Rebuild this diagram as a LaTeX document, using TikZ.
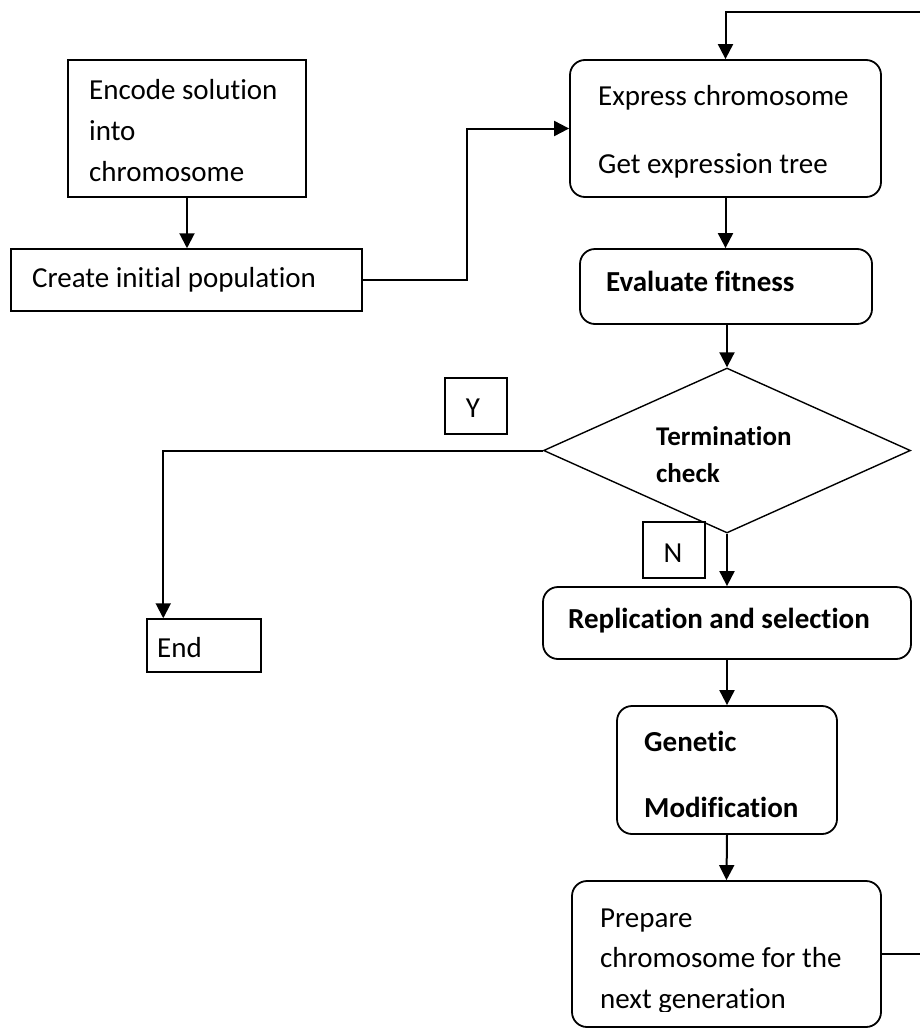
\documentclass[tikz,border=0pt]{standalone}
\usepackage{fontspec}
\setmainfont{Carlito}[Ligatures=NoCommon]
\usetikzlibrary{arrows.meta,shapes.geometric}

\begin{document}
\begin{tikzpicture}[x=1pt,y=-1pt,
  box/.style={draw,line width=1.5pt,inner sep=0pt,minimum width=#1},
  rbox/.style={box=#1,rounded corners=15pt,line width=1.8pt},
  tag/.style={draw,line width=1.3pt,inner sep=0pt,minimum width=62pt,minimum height=56pt},
  txt/.style={anchor=base west,inner sep=0pt,font=\fontsize{29}{41}\selectfont},
  btxt/.style={txt,font=\fontsize{29}{41}\selectfont\bfseries},
  stxt/.style={txt,font=\fontsize{27}{36}\selectfont\bfseries},
  flow/.style={line width=2pt,-{Triangle[length=15pt,width=15pt]}},
  link/.style={line width=2pt}]
\useasboundingbox (0,0) rectangle (919,1028);

% process boxes (centre, width, height)
\node[box=238pt,minimum height=137pt] (encode) at (187,128.5) {};
\node[box=351pt,minimum height=62pt] (create) at (186.5,280) {};
\node[rbox=311pt,minimum height=137pt] (express) at (725.5,128.5) {};
\node[rbox=292pt,minimum height=75pt] (evaluate) at (726,286.5) {};
\node[draw,diamond,line width=1.4pt,inner sep=0pt,minimum width=367pt,minimum height=165pt] (check) at (727,450.5) {};
\node[rbox=368pt,minimum height=72pt] (replicate) at (727,623) {};
\node[box=114pt,minimum height=53pt] (end) at (204,645.5) {};
\node[rbox=220pt,minimum height=128pt] (genetic) at (727,770) {};
\node[rbox=309pt,minimum height=146pt] (prepare) at (726.5,954) {};

% branch tags
\node[tag] (yes) at (476,406) {};
\node[tag] (no) at (674,550) {};
\node[txt,anchor=base] (yes-t) at (473,417) {Y};
\node[txt,anchor=base] (no-t) at (673,562) {N};

% box texts
\node[txt] (encode-1) at (89,99) {Encode solution};
\node[txt] (encode-2) at (89,140) {into};
\node[txt] (encode-3) at (89,181) {chromosome};
\node[txt] (create-t) at (32,287) {Create initial population};
\node[txt] (express-1) at (598,105) {Express chromosome};
\node[txt] (express-2) at (598,173) {Get expression tree};
\node[btxt] (evaluate-t) at (606,291) {Evaluate fitness};
\node[stxt] (check-1) at (656,445) {Termination};
\node[stxt] (check-2) at (656,482) {check};
\node[btxt] (replicate-t) at (568,628) {Replication and selection};
\node[txt] (end-t) at (157,657) {End};
\begin{scope}
  \clip (617,706) rectangle (837,819);
  \node[btxt] (genetic-1) at (644,751) {Genetic};
  \node[btxt] (genetic-2) at (644,817) {Modification};
\end{scope}
\begin{scope}
  \clip (572,881) rectangle (881,1011);
  \node[txt] (prepare-1) at (600,927) {Prepare};
  \node[txt] (prepare-2) at (600,967) {chromosome for the};
  \node[txt] (prepare-3) at (600,1008) {next generation};
\end{scope}

% connectors
\coordinate (loop) at (940,12);
\coordinate (endin) at ([xshift=17pt]end.north west);
\draw[flow] (encode.south) -- (encode.south |- create.north);
\draw[flow] (create.east) -- ++(104,0) |- (express.west);
\draw[flow] (prepare.east) -| (loop) -| (express.north);
\draw[flow] (express.south) -- (express.south |- evaluate.north);
\draw[flow] (check.north |- evaluate.south) -- (check.north);
\draw[flow] (check.west) -| (endin);
\draw[flow] (check.south) -- (replicate.north);
\draw[flow] (replicate.south) -- (genetic.north);
\draw[flow] (genetic.south) -- (prepare.north);
\end{tikzpicture}
\end{document}
